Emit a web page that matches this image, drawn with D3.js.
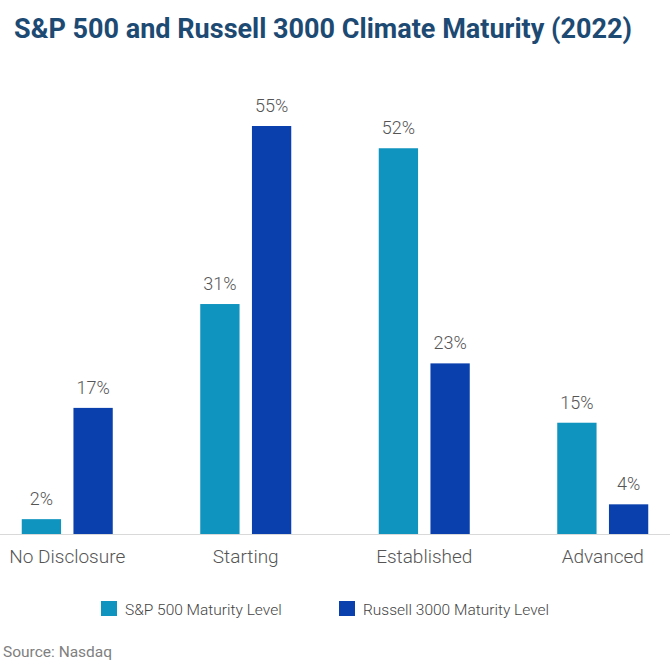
<!DOCTYPE html>
<html><head><meta charset="utf-8">
<script src="https://cdn.jsdelivr.net/npm/d3@7"></script>
<style>body{margin:0;background:#fff}svg{display:block}</style>
</head><body>
<svg id="c" width="670" height="670"></svg>
<script>
const categories = ["No Disclosure","Starting","Established","Advanced"];
const seriesNames = ["S&P 500 Maturity Level","Russell 3000 Maturity Level"];
const sp500 = [2,31,52,15];
const russell3000 = [17,55,23,4];
const colors = ["#0f93bf","#0a40ae"];

const svg = d3.select("#c");
const font = "Roboto, 'Noto Sans', sans-serif";
const baseY = 534;
const x0 = d3.scaleBand().domain(categories).range([-22, 692]).paddingInner(0).paddingOuter(0);
const x1 = d3.scaleBand().domain([0,1]).range([0, 91]).paddingInner(0.24);
const y = d3.scaleLinear().domain([0,55]).range([baseY, 126]);

svg.append("text").attr("x",14).attr("y",38).attr("font-family",font).attr("font-weight",700)
  .attr("font-size",27).attr("fill","#1d4a73").attr("textLength",618).attr("lengthAdjust","spacingAndGlyphs")
  .text("S&P 500 and Russell 3000 Climate Maturity (2022)");

svg.append("line").attr("x1",0).attr("x2",670).attr("y1",baseY+0.5).attr("y2",baseY+0.5)
  .attr("stroke","#d9d9d9").attr("stroke-width",1);

const series = [sp500, russell3000];
const g = svg.selectAll("g.cat").data(categories).join("g")
  .attr("transform", d => `translate(${x0(d) + (x0.bandwidth()-91)/2},0)`);
series.forEach((vals, si) => {
  g.append("rect").attr("x", x1(si)).attr("width", x1.bandwidth())
    .attr("y", (d,i) => y(vals[i])).attr("height", (d,i) => baseY - y(vals[i]))
    .attr("fill", colors[si]);
  g.append("text").attr("x", x1(si) + x1.bandwidth()/2).attr("y", (d,i) => y(vals[i]) - 14)
    .attr("text-anchor","middle").attr("font-family",font).attr("font-weight",300).attr("font-size",18)
    .attr("fill","#555").text((d,i) => vals[i] + "%");
});
g.append("text").attr("x", 45.5).attr("y", 563).attr("text-anchor","middle")
  .attr("font-family",font).attr("font-weight",300).attr("font-size",19).attr("fill","#555").text(d=>d);

const legX = [101, 339];
seriesNames.forEach((n,i)=>{
  svg.append("rect").attr("x",legX[i]).attr("y",601).attr("width",16).attr("height",15).attr("fill",colors[i]);
  svg.append("text").attr("x",legX[i]+24).attr("y",615).attr("font-family",font).attr("font-weight",300)
    .attr("font-size",15.5).attr("fill","#444").text(n);
});
svg.append("text").attr("x",3).attr("y",657).attr("font-family",font).attr("font-weight",400)
  .attr("font-size",15.5).attr("fill","#808080").text("Source: Nasdaq");
</script>
</body></html>
